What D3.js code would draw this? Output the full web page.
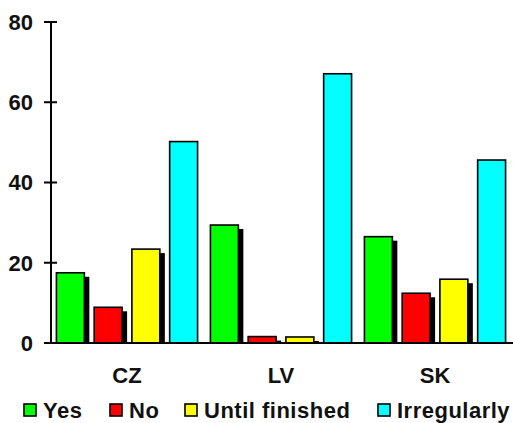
<!DOCTYPE html>
<html>
<head>
<meta charset="utf-8">
<script src="https://cdn.jsdelivr.net/npm/d3@7/dist/d3.min.js"></script>
<style>
  html, body { margin: 0; padding: 0; background: #fff; }
  svg { display: block; }
  text { font-family: "Liberation Sans", Arial, sans-serif; font-weight: bold; fill: #111; }
</style>
</head>
<body>
<svg id="chart" width="513" height="423"></svg>
<script>
// Categories, series and values
const countries = ["CZ", "LV", "SK"];
const seriesNames = ["Yes", "No", "Until finished", "Irregularly"];
const seriesColors = ["#00ff00", "#ff0000", "#ffff00", "#00ffff"];
const yesValues = [17.5, 29.4, 26.5];
const noValues = [8.9, 1.6, 12.4];
const untilValues = [23.4, 1.5, 15.9];
const irregularValues = [50.2, 67.1, 45.6];
const yTicks = [0, 20, 40, 60, 80];
// series that are drawn without a drop shadow
const noShadow = ["Irregularly"];

const seriesValues = [yesValues, noValues, untilValues, irregularValues];
const rows = countries.map((c, i) => ({
  country: c,
  values: seriesNames.map((s, j) => ({ series: s, value: seriesValues[j][i], color: seriesColors[j] }))
}));

const svg = d3.select("#chart");
const axisX = 51, baseY = 343, fontSize = 22;

const y = d3.scaleLinear().domain([0, 80]).range([baseY, 22]);
const x0 = d3.scaleBand().domain(countries).range([50, 512]).paddingInner(0).paddingOuter(0);
const x1 = d3.scaleBand().domain(seriesNames).range([0, x0.bandwidth()])
  .paddingInner(0.26).paddingOuter(0.17);

const groups = svg.selectAll("g.group").data(rows).join("g")
  .attr("class", "group")
  .attr("transform", d => `translate(${x0(d.country)},0)`);

// drop shadows (offset down-right, cut off at the baseline)
groups.selectAll("rect.shadow")
  .data(d => d.values.filter(v => !noShadow.includes(v.series)))
  .join("rect")
  .attr("class", "shadow")
  .attr("x", v => x1(v.series) + 5)
  .attr("y", v => y(v.value) + 4)
  .attr("width", x1.bandwidth())
  .attr("height", v => Math.max(0, baseY - y(v.value) - 4))
  .attr("fill", "#000");

// bars
groups.selectAll("rect.bar")
  .data(d => d.values)
  .join("rect")
  .attr("class", "bar")
  .attr("x", v => x1(v.series))
  .attr("y", v => y(v.value))
  .attr("width", x1.bandwidth())
  .attr("height", v => baseY - y(v.value))
  .attr("fill", v => v.color)
  .attr("stroke", "#000")
  .attr("stroke-width", 1.6);

// y axis line and ticks
svg.append("line")
  .attr("x1", axisX).attr("x2", axisX)
  .attr("y1", y(80)).attr("y2", baseY)
  .attr("stroke", "#000").attr("stroke-width", 2);

svg.selectAll("line.ytick").data(yTicks).join("line")
  .attr("class", "ytick")
  .attr("x1", axisX - 7).attr("x2", axisX + 6)
  .attr("y1", d => y(d)).attr("y2", d => y(d))
  .attr("stroke", "#000").attr("stroke-width", 2);

svg.selectAll("text.ylabel").data(yTicks).join("text")
  .attr("class", "ylabel")
  .attr("x", 33)
  .attr("y", d => y(d))
  .attr("dy", "0.36em")
  .attr("text-anchor", "end")
  .attr("font-size", fontSize)
  .text(d => d);

// baseline
svg.append("line")
  .attr("x1", axisX - 7).attr("x2", 513)
  .attr("y1", baseY).attr("y2", baseY)
  .attr("stroke", "#000").attr("stroke-width", 2);

// category labels
svg.selectAll("text.xlabel").data(countries).join("text")
  .attr("class", "xlabel")
  .attr("x", d => x0(d) + x0.bandwidth() / 2)
  .attr("y", 383)
  .attr("text-anchor", "middle")
  .attr("font-size", fontSize)
  .text(d => d);

// legend: swatch left edges along the bottom row
const legendX = [24, 110, 185, 378];
const legend = svg.append("g").attr("class", "legend");
seriesNames.forEach((s, i) => {
  legend.append("rect")
    .attr("x", legendX[i]).attr("y", 404)
    .attr("width", 12).attr("height", 12)
    .attr("fill", seriesColors[i])
    .attr("stroke", "#000").attr("stroke-width", 1.6);
  legend.append("text")
    .attr("x", legendX[i] + 19).attr("y", 418)
    .attr("font-size", fontSize)
    .attr("letter-spacing", 0.5)
    .text(s);
});
</script>
</body>
</html>
